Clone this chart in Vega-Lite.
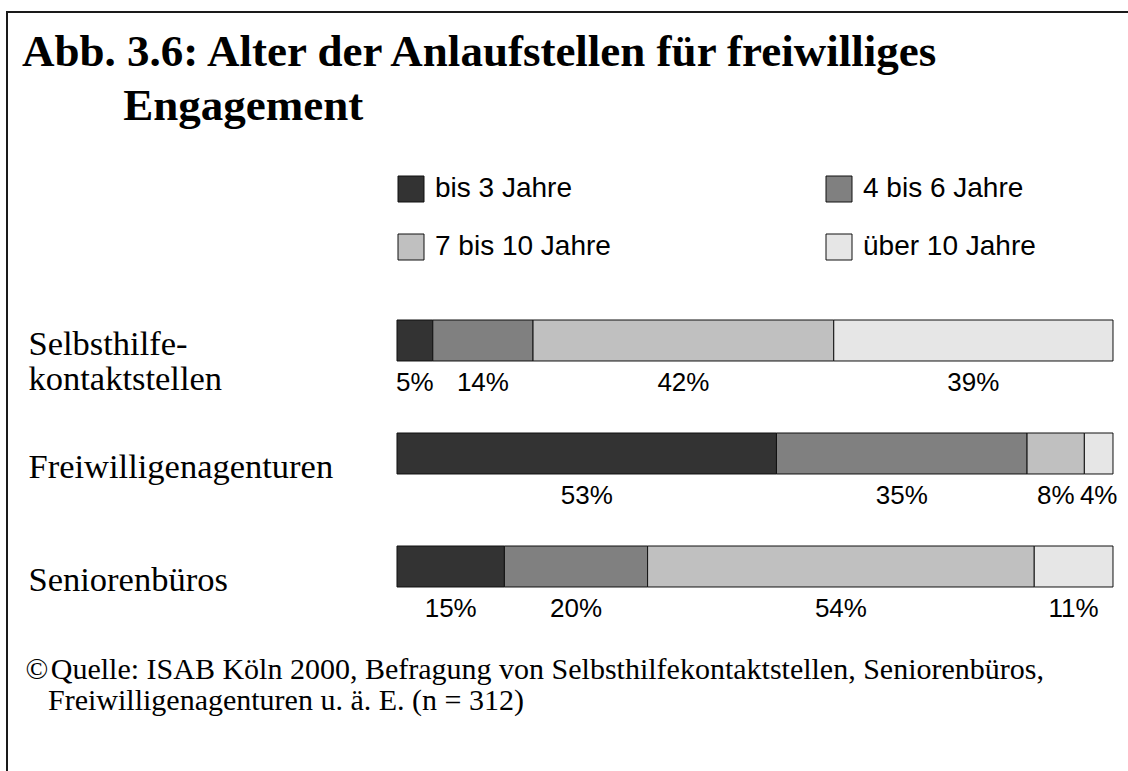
{
  "$schema": "https://vega.github.io/schema/vega-lite/v6.json",
  "autosize": "none",
  "padding": {"left": 7, "top": 12, "right": 0, "bottom": 0},
  "width": 1126,
  "height": 765,
  "background": "white",
  "config": {"view": {"stroke": "#1a1a1a", "strokeWidth": 2}},
  "title": {
    "text": ["Abb. 3.6: Alter der Anlaufstellen für freiwilliges", "\u2060\u00a0\u00a0\u00a0\u00a0\u00a0\u00a0\u00a0\u00a0\u00a0Engagement"],
    "anchor": "start",
    "frame": "group",
    "font": "Liberation Serif",
    "fontSize": 45,
    "fontWeight": "bold",
    "color": "#000000",
    "lineHeight": 54,
    "baseline": "top",
    "offset": -117,
    "dx": 15
  },
  "data": {
    "values": [
      {"stelle": "Selbsthilfekontaktstellen", "alter": "bis 3 Jahre", "k": 1, "anteil": 0.05},
      {"stelle": "Selbsthilfekontaktstellen", "alter": "4 bis 6 Jahre", "k": 2, "anteil": 0.14},
      {"stelle": "Selbsthilfekontaktstellen", "alter": "7 bis 10 Jahre", "k": 3, "anteil": 0.42},
      {"stelle": "Selbsthilfekontaktstellen", "alter": "über 10 Jahre", "k": 4, "anteil": 0.39},
      {"stelle": "Freiwilligenagenturen", "alter": "bis 3 Jahre", "k": 1, "anteil": 0.53},
      {"stelle": "Freiwilligenagenturen", "alter": "4 bis 6 Jahre", "k": 2, "anteil": 0.35},
      {"stelle": "Freiwilligenagenturen", "alter": "7 bis 10 Jahre", "k": 3, "anteil": 0.08},
      {"stelle": "Freiwilligenagenturen", "alter": "über 10 Jahre", "k": 4, "anteil": 0.04},
      {"stelle": "Seniorenbüros", "alter": "bis 3 Jahre", "k": 1, "anteil": 0.15},
      {"stelle": "Seniorenbüros", "alter": "4 bis 6 Jahre", "k": 2, "anteil": 0.20},
      {"stelle": "Seniorenbüros", "alter": "7 bis 10 Jahre", "k": 3, "anteil": 0.54},
      {"stelle": "Seniorenbüros", "alter": "über 10 Jahre", "k": 4, "anteil": 0.11}
    ]
  },
  "layer": [
    {
      "mark": {"type": "bar", "stroke": "#111111", "strokeWidth": 1},
      "encoding": {
        "y": {
          "field": "stelle",
          "type": "nominal",
          "sort": ["Selbsthilfekontaktstellen", "Freiwilligenagenturen", "Seniorenbüros"],
          "scale": {"range": [272, 611], "paddingInner": 0.6372, "paddingOuter": 0.3186},
          "axis": {
            "title": null,
            "domain": false,
            "ticks": false,
            "tickSize": 0,
            "grid": false,
            "labelPadding": -21,
            "labelAlign": "left",
            "labelBaseline": "middle",
            "labelFont": "Liberation Serif",
            "labelFontSize": 34.5,
            "labelColor": "#000000",
            "labelLineHeight": 35,
            "labelLimit": 500,
            "labelOverlap": false,
            "labelOffset": {"condition": {"test": "datum.value === 'Selbsthilfekontaktstellen'", "value": 4}, "value": 14},
            "labelExpr": "datum.value === 'Selbsthilfekontaktstellen' ? ['Selbsthilfe-', 'kontaktstellen'] : datum.value"
          }
        },
        "x": {
          "field": "anteil",
          "type": "quantitative",
          "stack": "zero",
          "scale": {"domain": [-0.54469, 1.02794], "nice": false, "zero": false},
          "axis": {
            "title": ["©\u200aQuelle: ISAB Köln 2000, Befragung von Selbsthilfekontaktstellen, Seniorenbüros,", "\u2060\u00a0\u00a0\u00a0Freiwilligenagenturen u. ä. E. (n = 312)"],
            "labels": false,
            "ticks": false,
            "domain": false,
            "grid": false,
            "titleX": 18,
            "titleY": -99,
            "titleAlign": "left",
            "titleAnchor": "start",
            "titleBaseline": "alphabetic",
            "titleFont": "Liberation Serif",
            "titleFontSize": 30,
            "titleFontWeight": "normal",
            "titleLineHeight": 31,
            "titleColor": "#000000"
          }
        },
        "color": {
          "field": "alter",
          "type": "nominal",
          "scale": {
            "domain": ["bis 3 Jahre", "4 bis 6 Jahre", "7 bis 10 Jahre", "über 10 Jahre"],
            "range": ["#333333", "#808080", "#c0c0c0", "#e6e6e6"]
          },
          "legend": {
            "orient": "none",
            "direction": "horizontal",
            "legendX": 390,
            "legendY": 163,
            "columns": 2,
            "title": null,
            "padding": 0,
            "symbolType": "square",
            "symbolSize": 676,
            "symbolStrokeColor": "#111111",
            "symbolStrokeWidth": 1,
            "symbolOpacity": 1,
            "labelFont": "Liberation Sans",
            "labelFontSize": 28,
            "labelColor": "#000000",
            "labelOffset": 10,
            "labelLimit": 400,
            "columnPadding": 213,
            "rowPadding": 28
          }
        },
        "order": {"field": "k", "type": "quantitative"}
      }
    },
    {
      "mark": {"type": "text", "font": "Liberation Sans", "fontSize": 26, "color": "#000000", "dy": 42, "baseline": "middle"},
      "encoding": {
        "y": {"field": "stelle", "type": "nominal", "sort": ["Selbsthilfekontaktstellen", "Freiwilligenagenturen", "Seniorenbüros"]},
        "x": {"field": "anteil", "type": "quantitative", "stack": "zero", "bandPosition": 0.5},
        "detail": {"field": "alter"},
        "order": {"field": "k", "type": "quantitative"},
        "text": {"field": "anteil", "type": "quantitative", "format": ".0%"}
      }
    }
  ]
}
